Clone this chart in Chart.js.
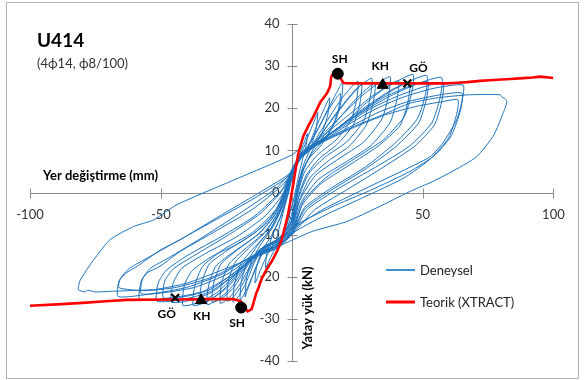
<!DOCTYPE html>
<html>
<head>
<meta charset="utf-8">
<script src="https://cdn.jsdelivr.net/npm/chart.js@4/dist/chart.umd.min.js"></script>
<style>
  html, body { margin: 0; padding: 0; background: #fff; }
  #wrap { width: 584px; height: 380px; }
</style>
</head>
<body>
<div id="wrap"><canvas id="u414" width="584" height="380"></canvas></div>
<script>
// axis ticks
const xTicks = [-100, -50, 0, 50, 100];
const yTicks = [-40, -30, -20, -10, 0, 10, 20, 30, 40];

// Deneysel: recorded cycles, [displacement mm, load kN]
const c01 = [[0,0],[1.5,5],[3,9],[4.8,12],[6,14],[5.6,11.5],[4.2,8],[2.5,3.5],[1,-1],[-0.5,-4.5],[-2,-8],[-4,-10.5],[-6,-13],[-5.6,-10.5],[-4.2,-7],[-2.5,-3],[-1,0.5]];
const c02 = [[0,3],[2,7],[4.5,10.5],[7,14.5],[9,17.5],[10,19],[9.4,15.5],[7.5,11],[4.5,6.5],[2,1],[0.5,-4],[-1.5,-8],[-4,-11],[-6.5,-13.5],[-8.5,-16],[-10,-18],[-9.5,-14.5],[-7.5,-10.5],[-4.5,-6],[-2,-1.5]];
const c03 = [[-0.5,2],[1,5.5],[3.5,8.5],[7,12],[10,16.5],[12.5,20],[14.5,22.5],[13.8,18.5],[11.5,14],[8,10],[4.5,5.5],[2,-1],[0,-6.5],[-3,-9.5],[-6.5,-12],[-9.5,-15],[-12,-18.5],[-14,-21.5],[-13.4,-17.5],[-11,-13.5],[-7.5,-10],[-4,-5.5],[-1.5,0]];
const c04 = [[0,4],[2.5,7.5],[6,10.5],[10,15],[14,20],[17,23.5],[19.5,26.3],[19,22],[17,17.5],[13,13],[8,9.5],[4,5],[1.5,-1.5],[0,-7],[-4,-10.5],[-9,-12.5],[-12,-15.5],[-15,-20],[-17,-23.3],[-17.8,-24.8],[-17.3,-20.5],[-15.5,-16.5],[-12,-12.5],[-7,-8],[-3,-2.5]];
const c05 = [[-0.5,3],[2,7],[5.5,10],[9.5,14.5],[13.5,19],[16.5,22],[18.6,23.5],[18,20],[15.5,15.5],[11,11],[6.5,8],[3,3],[1,-3],[-0.5,-7.5],[-5,-11],[-10,-13],[-13.5,-17.5],[-16.5,-22],[-18.5,-24.5],[-19.7,-25.5],[-19.2,-21],[-17,-16.5],[-13,-12.5],[-8,-8.5],[-3.5,-3]];
const c06 = [[0,4.5],[3,8],[7,10.5],[11,14.5],[15.5,19],[20,23],[23.5,25.5],[25.4,26.4],[24.8,22],[22.5,17],[17,12.5],[10,9],[5,5],[2,-1],[0,-7.5],[-5,-11],[-11,-13],[-14.5,-17],[-17.5,-21.5],[-20.5,-24.8],[-22.4,-26],[-21.8,-21.5],[-19.5,-17],[-15,-13.5],[-9,-9.5],[-4,-4]];
const c07 = [[-0.5,3.5],[2.5,7.5],[6.5,10],[11,13.5],[16,18],[21,22],[24.5,24.5],[26.8,25.5],[26,21],[23.5,16],[17.5,11.5],[10.5,8],[5.5,4],[2,-2],[0,-8],[-5,-11.5],[-11.5,-13.5],[-15.5,-17.5],[-19,-22],[-22.5,-25],[-24.7,-25.8],[-24.2,-21],[-21.5,-16.5],[-16,-13],[-9.5,-9],[-4,-3.5]];
const c08 = [[0,4],[3,8],[7,10.5],[12,14.5],[17,18.5],[22,22.5],[26.5,25.5],[30.6,27.1],[30,22.5],[27.5,17],[21,12],[13,8.5],[6.5,4.5],[2.5,-1.5],[0.5,-7.5],[-4.5,-11],[-11,-13],[-15.5,-17],[-20,-22],[-24,-25],[-27.3,-26.3],[-26.8,-21.5],[-24,-17],[-18,-13.5],[-10.5,-9.5],[-4.5,-4]];
const c09 = [[-0.5,3.5],[2.5,7.5],[7,10],[12.5,13.5],[18,17.5],[23.5,21.5],[28.5,24.5],[31.9,26],[31.2,21.5],[28.5,16],[22,11],[14,7.5],[7,3.5],[2.5,-2.5],[0,-8],[-5,-11.5],[-12,-13.5],[-17,-17.5],[-22,-22.5],[-26.5,-25],[-30.4,-26],[-29.8,-21.5],[-27,-17],[-20.5,-13.5],[-12,-9.5],[-5,-4]];
const c10 = [[0,4.5],[3,8.5],[7.5,11],[13,14.5],[19.5,18.5],[26,22.5],[32,25.5],[37.6,27.5],[37,23],[34.5,17.5],[27.5,12],[18,8],[9,4],[3,-2],[0.5,-8],[-5,-11.5],[-12,-13.5],[-17.5,-17.5],[-23,-22.5],[-28,-25.3],[-32.3,-26.6],[-31.7,-22],[-29,-17.5],[-22,-14],[-13,-10],[-5.5,-4.5]];
const c11 = [[-0.5,4],[2.5,8],[7.5,10.5],[14,13.5],[21,17],[28,21],[35,24.5],[40.8,26.5],[40.2,22],[37.5,16.5],[30,11],[20,7],[10,3],[3.5,-2.5],[0.5,-8.5],[-5,-12],[-12.5,-14],[-18.5,-18],[-24.5,-22.5],[-30,-25],[-35,-26.2],[-34.4,-21.5],[-31.5,-17],[-24,-13.5],[-14,-9.5],[-6,-4.5]];
const c12 = [[0,5],[3,9],[8,11.5],[15,15],[23,19],[31,23],[39,26],[46.4,28],[45.8,23.5],[43,18],[35,12.5],[24,8],[13,3.5],[4.5,-2],[1,-8],[-4.5,-11.5],[-12,-13.5],[-19,-18],[-26,-23],[-32,-25.8],[-37.6,-26.8],[-37,-22],[-34,-17.5],[-26,-13.5],[-15,-9.5],[-6,-4]];
const c13 = [[-0.5,4],[2.5,8],[8,10.5],[15,14],[23,18],[31,21.5],[38.5,24.5],[45,26],[44.4,21.5],[41.5,16],[33,11],[22,6.5],[11,2],[4,-3],[0.5,-9],[-5,-12.5],[-13,-14.5],[-20,-18.5],[-28,-23.5],[-35,-26],[-41.5,-26.8],[-41,-22],[-38,-18.5],[-30,-15],[-20,-12],[-10,-7.5],[-3,-1]];
const c14 = [[0,4.5],[3,8.5],[8.5,11],[16,14.5],[25,18.5],[34,22.5],[43,25.8],[51.6,27.8],[51,23],[48,17.5],[40,12],[28,6],[15,1],[5,-3.5],[0.5,-9],[-5,-12.5],[-13,-14.5],[-21,-19],[-30,-23.5],[-38,-25.5],[-46,-26],[-45.3,-21.5],[-42,-18],[-33,-14.5],[-21,-10.5],[-10,-5.5],[-3,0]];
const c15 = [[0,5],[3.5,9],[9,11.5],[17,15],[26,19],[35,22.5],[44,25],[52,26.3],[51.4,22],[48.5,16.5],[40,11],[28,5.5],[15,0.5],[5,-4],[0.5,-9.5],[-5,-13],[-13.5,-15],[-22,-19.5],[-31,-23.5],[-41,-25.3],[-51.5,-25.8],[-51,-21.5],[-48,-18.5],[-40,-15],[-27,-10.5],[-14,-5.5],[-4,0.5]];
const c16 = [[0,5],[3.5,9],[9,11.5],[18,15.5],[28,19.5],[38,23],[48,25.8],[57.3,27.3],[56.7,22.5],[53.5,16.5],[45,11],[32,6],[18,1],[6,-4],[1,-9],[-5,-12.5],[-13,-14.5],[-22,-19],[-31,-23],[-40,-24.6],[-49,-25],[-48.5,-21],[-45,-18],[-36,-14.5],[-24,-10],[-12,-5],[-3,1]];
const c17 = [[0,5.5],[4,9.5],[10,12],[19,15.5],[29,19.5],[39,22.5],[49,24.8],[57.8,26],[57.3,21.5],[54.5,16],[47,11],[35,6],[22,1],[9,-4],[1.5,-9],[-5,-13],[-14,-15.5],[-24,-20],[-34,-23.5],[-46,-25],[-58,-25.4],[-57.5,-21],[-55,-19],[-50.3,-17.5],[-42.6,-14],[-30,-9.5],[-15,-4],[-4,1.5]];
const c18 = [[0,4.5],[4,9],[10,11.5],[20,15.5],[31,19.5],[42,22.5],[54,24.7],[65.5,25.5],[65,21.5],[63,17.2],[57.8,11.8],[52.9,8.5],[45.2,6],[27,0.6],[12,-4],[1,-8.5],[-5,-12.5],[-14,-15],[-25,-19.5],[-37,-22.5],[-48,-23.7],[-57.5,-24],[-57,-20.5],[-54,-18],[-47,-15.5],[-35,-11],[-20,-5],[-6,1]];
const c19 = [[0,5],[4.5,9.5],[11,12],[22,15.5],[33,19],[44,21.5],[55,23],[65,23.6],[64.5,19.5],[61,13.5],[55,9],[45.2,5],[30,0.5],[15,-3.5],[1,-8],[-5,-12],[-15,-15],[-27,-19.5],[-40,-22.5],[-53,-24],[-66.3,-24.7],[-66,-21],[-63,-19],[-59,-17.5],[-50,-13.6],[-42.6,-11.2],[-30,-6.5],[-15,-1],[-3,3.5]];
const c20 = [[1,5.5],[5,9.5],[12,12],[24,15.5],[36,18.5],[48,20.5],[57,21.5],[63.5,22],[63,18.5],[60,13],[53,8],[43,3.5],[28,-1],[14,-5],[2,-9],[-5,-12.5],[-16,-15.5],[-30,-20],[-44,-22.5],[-56,-23.3],[-66,-22.6],[-65.5,-20.5],[-62,-18],[-55,-15.5],[-45,-12],[-32,-7.5],[-16,-2],[-3,3]];
const c21 = [[0.5,5],[5,9.5],[13,12.5],[25,16],[35,18.5],[45.3,21.2],[56,22.5],[68,23.2],[79.6,23.2],[80.5,22.6],[81.3,22.4],[82.2,21.6],[81.5,20],[80.8,18.9],[79,16],[76.9,13.3],[70.7,8.5],[60.5,4.7],[52.8,2.3],[45,0.2],[33,-3.5],[21,-6.9],[8,-9.2],[0.6,-11.2],[-6,-13],[-15,-15.5],[-27,-18.5],[-40,-21.5],[-52,-23],[-66.8,-23.4],[-75,-23.6],[-78,-23.2],[-79,-23.6],[-81.5,-23.1],[-81.2,-21.5],[-80.8,-20.8],[-78.5,-18.5],[-75.7,-16],[-69.4,-11.2],[-60.5,-8.1],[-52.8,-6.5],[-43.9,-2.9],[-23.5,2.6],[0,8.9],[4,11]];

// Teorik (XTRACT) envelope
const teorik = [[-100,-26.9],[-88,-26.5],[-80,-26.2],[-71,-25.8],[-63,-25.5],[-45,-25.4],[-30,-25.3],[-22.3,-25.3],[-19.5,-25.8],[-18,-27.4],[-16.8,-28.2],[-15.3,-27.7],[-14.6,-26.2],[-13.6,-24],[-12.6,-22.5],[-11.5,-20.5],[-9.8,-18.5],[-7.5,-16.2],[-5.5,-13.8],[-3.8,-11.2],[-2.5,-8],[-1.3,-4.9],[-0.4,-1.7],[0.6,2],[1.5,5.5],[2.6,9.5],[4.5,13.5],[6.5,16],[8.3,18],[11,21.5],[13.4,23.5],[14.7,25.2],[15.1,27.5],[16,28.3],[17.8,28.3],[19,26.8],[19.8,26],[23.6,25.9],[59,25.9],[62,26],[67,26.2],[72,26.5],[77,26.7],[82,26.9],[87,27.1],[92,27.3],[95,27.5],[100,27.2]];

// performance points on the envelope
const shPoints = [[17.6,28.2],[-19.3,-27.3]];
const khPoints = [[34.8,25.5],[-34.6,-25.6]];
const goPoints = [[44.2,25.9],[-44.5,-25.0]];

const toXY = (arr) => arr.map(([x, y]) => ({ x, y }));
const deneysel = [].concat(c01, c02, c03, c04, c05, c06, c07, c08, c09, c10, c11, c12, c13, c14, c15, c16, c17, c18, c19, c20, c21);

const FONT = 'Lato, "Open Sans", sans-serif';

// frame, crossing axes with tick marks and tick labels (under the data)
const axesPlugin = {
  id: 'axesPlugin',
  beforeDraw(chart) {
    const ctx = chart.ctx;
    ctx.save();
    ctx.fillStyle = '#fff';
    ctx.fillRect(0, 0, chart.width, chart.height);
    ctx.strokeStyle = '#b4b4b4';
    ctx.lineWidth = 1;
    ctx.strokeRect(6.5, 2.5, 572, 376);
    ctx.restore();
  },
  beforeDatasetsDraw(chart) {
    const { ctx, chartArea: a, scales: { x, y } } = chart;
    const x0 = Math.round(x.getPixelForValue(0)) + 0.5;
    const y0 = Math.round(y.getPixelForValue(0)) + 0.5;
    ctx.save();
    ctx.strokeStyle = '#8c8c8c';
    ctx.lineWidth = 1;
    ctx.beginPath();
    ctx.moveTo(a.left, y0); ctx.lineTo(a.right, y0);
    ctx.moveTo(x0, a.top); ctx.lineTo(x0, a.bottom);
    xTicks.forEach(v => {
      const px = Math.round(x.getPixelForValue(v)) + 0.5;
      ctx.moveTo(px, y0 - 5); ctx.lineTo(px, y0 + 5);
    });
    yTicks.forEach(v => {
      const py = Math.round(y.getPixelForValue(v)) + 0.5;
      ctx.moveTo(x0 - 5, py); ctx.lineTo(x0 + 5, py);
    });
    ctx.stroke();

    ctx.fillStyle = '#333';
    ctx.font = '13px ' + FONT;
    ctx.textBaseline = 'middle';
    ctx.textAlign = 'center';
    xTicks.forEach(v => ctx.fillText(String(v), x.getPixelForValue(v), y0 + 21));
    ctx.textAlign = 'right';
    yTicks.forEach(v => ctx.fillText(String(v), x0 - 13, y.getPixelForValue(v)));
    ctx.restore();
  },
  afterDatasetsDraw(chart) {
    const { ctx, scales: { x, y } } = chart;
    ctx.save();
    ctx.fillStyle = '#000';
    ctx.textAlign = 'center';
    ctx.textBaseline = 'middle';
    ctx.font = 'bold 12px ' + FONT;
    const put = (pts, txt, offs) => pts.forEach(([vx, vy], i) => {
      ctx.fillText(txt, x.getPixelForValue(vx) + offs[i][0], y.getPixelForValue(vy) + offs[i][1]);
    });
    put(shPoints, 'SH', [[2, -15], [-4, 16]]);
    put(khPoints, 'KH', [[-2.5, -18.5], [0.5, 15.5]]);
    put(goPoints, 'GÖ', [[11, -15], [-8.5, 16.5]]);

    // titles
    ctx.textAlign = 'left';
    ctx.font = 'bold 19px ' + FONT;
    ctx.fillText('U414', 37, 41);
    ctx.font = '13px ' + FONT;
    ctx.fillStyle = '#333';
    ctx.fillText('(4ϕ14, ϕ8/100)', 37, 64);
    ctx.fillStyle = '#000';
    ctx.font = 'bold 13px ' + FONT;
    ctx.fillText('Yer değiştirme (mm)', 43, 176);
    ctx.save();
    ctx.translate(308, 308);
    ctx.rotate(-Math.PI / 2);
    ctx.textAlign = 'center';
    ctx.fillText('Yatay yük (kN)', 0, 0);
    ctx.restore();

    // legend
    ctx.lineWidth = 2;
    ctx.strokeStyle = '#3d8fd6';
    ctx.beginPath(); ctx.moveTo(386, 270); ctx.lineTo(415, 270); ctx.stroke();
    ctx.lineWidth = 3;
    ctx.strokeStyle = '#ff0000';
    ctx.beginPath(); ctx.moveTo(386, 302); ctx.lineTo(415, 302); ctx.stroke();
    ctx.fillStyle = '#222';
    ctx.font = '13px ' + FONT;
    ctx.textAlign = 'left';
    ctx.fillText('Deneysel', 420, 271);
    ctx.fillText('Teorik (XTRACT)', 420, 303);
    ctx.restore();
  }
};

new Chart(document.getElementById('u414'), {
  type: 'scatter',
  data: {
    datasets: [
      { label: 'SH', data: toXY(shPoints), pointStyle: 'circle', pointRadius: 5.5,
        backgroundColor: '#000', borderColor: '#000', order: 0 },
      { label: 'KH', data: toXY(khPoints), pointStyle: 'triangle', pointRadius: 6.5,
        backgroundColor: '#000', borderColor: '#000', order: 0 },
      { label: 'GÖ', data: toXY(goPoints), pointStyle: 'crossRot', pointRadius: 5.5,
        borderWidth: 2.2, borderColor: '#000', order: 0 },
      { label: 'Teorik (XTRACT)', data: toXY(teorik), showLine: true, pointRadius: 0,
        borderColor: '#ff0000', borderWidth: 2.6, order: 1 },
      { label: 'Deneysel', data: toXY(deneysel), showLine: true, pointRadius: 0,
        borderColor: '#1e73be', borderWidth: 1, tension: 0.2, order: 2 }
    ]
  },
  options: {
    responsive: false,
    animation: false,
    devicePixelRatio: 1,
    layout: { padding: { left: 30, right: 30.6, top: 24, bottom: 19 } },
    scales: {
      x: { type: 'linear', min: -100, max: 100, display: false },
      y: { type: 'linear', min: -40, max: 40, display: false }
    },
    plugins: { legend: { display: false }, tooltip: { enabled: false } }
  },
  plugins: [axesPlugin]
});
</script>
</body>
</html>
